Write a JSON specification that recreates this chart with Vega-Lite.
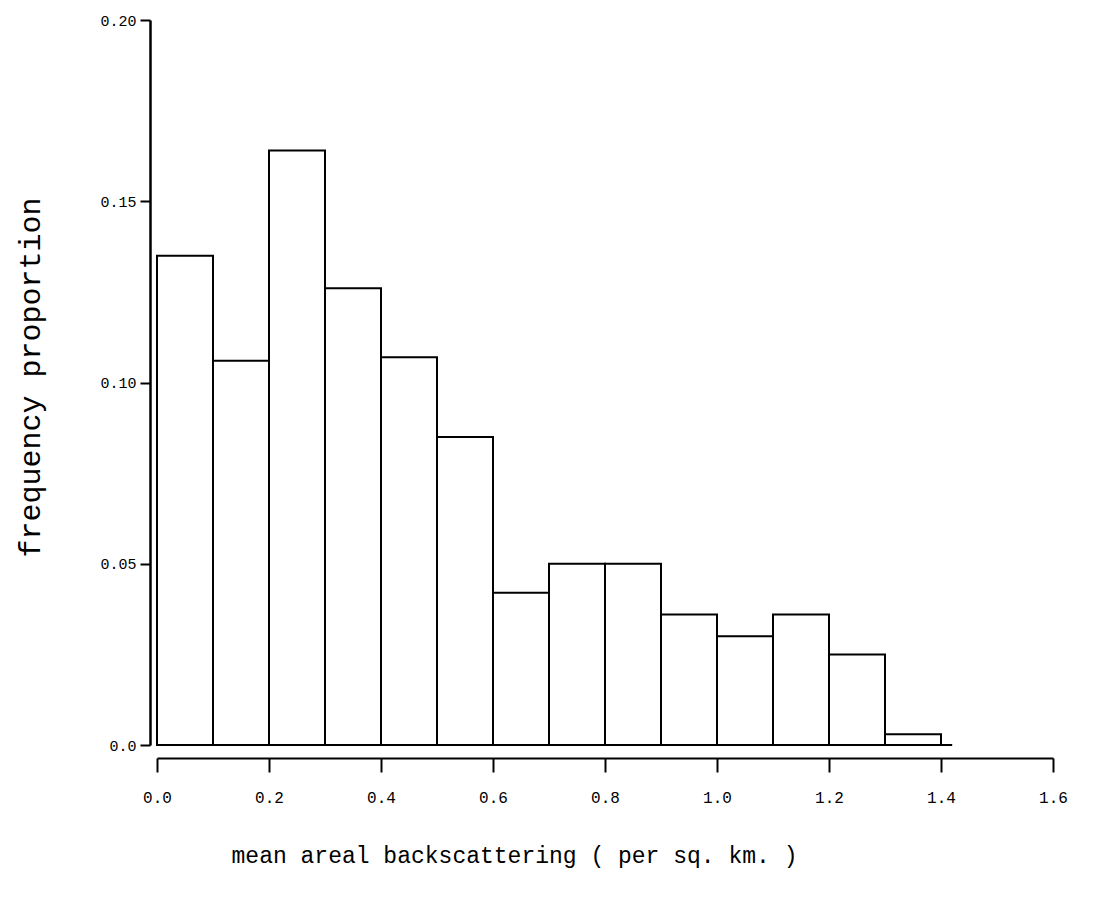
{
  "$schema": "https://vega.github.io/schema/vega-lite/v6.json",
  "width": 896,
  "height": 725,
  "autosize": "none",
  "padding": {"left": 157, "top": 20, "right": 46, "bottom": 152},
  "background": "white",
  "config": {"view": {"stroke": null}, "font": "Liberation Mono"},
  "data": {"values": [
    {"bin_start": 0.0, "bin_end": 0.1, "proportion": 0.135},
    {"bin_start": 0.1, "bin_end": 0.2, "proportion": 0.106},
    {"bin_start": 0.2, "bin_end": 0.3, "proportion": 0.164},
    {"bin_start": 0.3, "bin_end": 0.4, "proportion": 0.126},
    {"bin_start": 0.4, "bin_end": 0.5, "proportion": 0.107},
    {"bin_start": 0.5, "bin_end": 0.6, "proportion": 0.085},
    {"bin_start": 0.6, "bin_end": 0.7, "proportion": 0.042},
    {"bin_start": 0.7, "bin_end": 0.8, "proportion": 0.050},
    {"bin_start": 0.8, "bin_end": 0.9, "proportion": 0.050},
    {"bin_start": 0.9, "bin_end": 1.0, "proportion": 0.036},
    {"bin_start": 1.0, "bin_end": 1.1, "proportion": 0.030},
    {"bin_start": 1.1, "bin_end": 1.2, "proportion": 0.036},
    {"bin_start": 1.2, "bin_end": 1.3, "proportion": 0.025},
    {"bin_start": 1.3, "bin_end": 1.4, "proportion": 0.003}
  ]},
  "layer": [
    {
      "mark": {"type": "bar", "fill": "white", "stroke": "black", "strokeWidth": 2},
      "encoding": {
        "x": {
          "field": "bin_start", "type": "quantitative",
          "scale": {"domain": [0, 1.6], "nice": false, "zero": false},
          "axis": {
            "values": [0, 0.2, 0.4, 0.6, 0.8, 1.0, 1.2, 1.4, 1.6],
            "format": ".1f",
            "offset": 13,
            "grid": false,
            "labelFlush": false,
            "domainColor": "black", "domainWidth": 2,
            "tickColor": "black", "tickWidth": 2, "tickSize": 14,
            "labelFont": "Liberation Mono", "labelFontSize": 16, "labelColor": "black",
            "labelPadding": 17,
            "title": "mean areal backscattering ( per sq. km. )",
            "titleFont": "Liberation Mono", "titleFontSize": 23, "titleFontWeight": "normal", "titleColor": "black",
            "titleBaseline": "middle",
            "titleY": 97,
            "titleX": 357
          }
        },
        "x2": {"field": "bin_end"},
        "y": {
          "field": "proportion", "type": "quantitative",
          "scale": {"domain": [0, 0.2], "nice": false},
          "axis": {
            "values": [0, 0.05, 0.1, 0.15, 0.2],
            "labelExpr": "datum.value == 0 ? '0.0' : format(datum.value, '.2f')",
            "offset": 7,
            "grid": false,
            "domainColor": "black", "domainWidth": 2.5,
            "tickColor": "black", "tickWidth": 2, "tickSize": 10,
            "labelFont": "Liberation Mono", "labelFontSize": 15, "labelColor": "black",
            "labelPadding": 4,
            "title": "frequency proportion",
            "titleFont": "Liberation Mono", "titleFontSize": 30, "titleFontWeight": "normal", "titleColor": "black",
            "titleBaseline": "middle", "titleAlign": "center", "titleAngle": -90,
            "titleX": -120,
            "titleY": 357
          }
        },
        "y2": {"datum": 0}
      }
    },
    {
      "data": {"values": [{}]},
      "mark": {"type": "rule", "stroke": "black", "strokeWidth": 2},
      "encoding": {
        "x": {"datum": 0, "type": "quantitative"},
        "x2": {"datum": 1.42},
        "y": {"datum": 0, "type": "quantitative"}
      }
    }
  ]
}
